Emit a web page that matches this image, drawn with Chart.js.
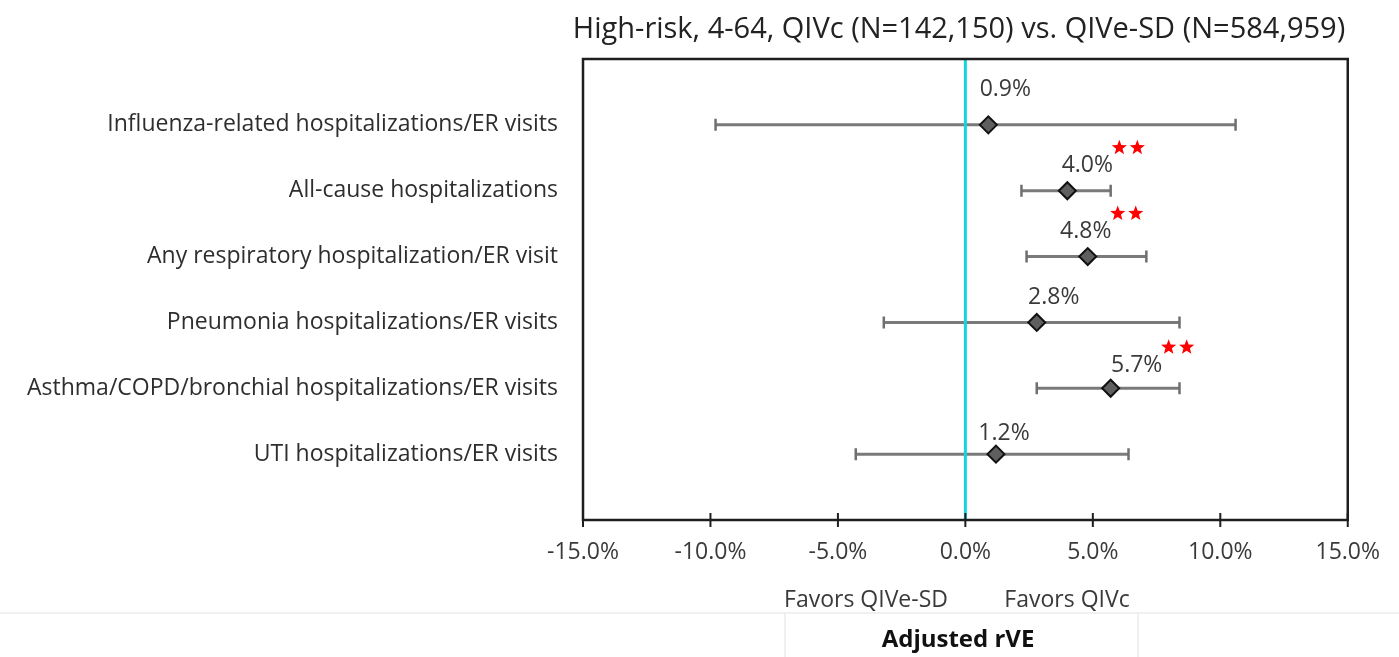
<!DOCTYPE html>
<html>
<head>
<meta charset="utf-8">
<script src="https://cdn.jsdelivr.net/npm/chart.js@4.4.1/dist/chart.umd.min.js"></script>
<style>
  html, body { margin: 0; padding: 0; background: #fff; }
  #wrap { width: 1399px; height: 657px; position: relative; }
</style>
</head>
<body>
<div id="wrap"><canvas id="forest"></canvas></div>
<script>
// Forest plot: adjusted rVE, QIVc vs QIVe-SD, high-risk 4-64

const categories = [
  "Influenza-related hospitalizations/ER visits",
  "All-cause hospitalizations",
  "Any respiratory hospitalization/ER visit",
  "Pneumonia hospitalizations/ER visits",
  "Asthma/COPD/bronchial hospitalizations/ER visits",
  "UTI hospitalizations/ER visits",
];
const estimates = [0.9, 4.0, 4.8, 2.8, 5.7, 1.2];
const lowerCI = [-9.8, 2.2, 2.4, -3.2, 2.8, -4.3];
const upperCI = [10.6, 5.7, 7.1, 8.4, 8.4, 6.4];
const significant = [false, true, true, false, true, false];
const xTicks = [-15, -10, -5, 0, 5, 10, 15];

const FONT = "'Open Sans', sans-serif";
const TEXT = "#3a3a3a";

// label offsets (px) for the value labels, as placed in the original
const labelDx = [17, 20, -2, 17, 26, 8];
const labelDy = [-35, -25, -25, -25, -23, -21];

const rows = categories.map((_, i) => i);

const datasets = [
  {
    label: "rVE",
    data: rows.map((i) => ({ x: estimates[i], y: i })),
    pointStyle: "rectRot",
    pointRadius: 8.5,
    pointHoverRadius: 8.5,
    backgroundColor: "#5f5f5f",
    borderColor: "#111",
    borderWidth: 2,
    showLine: false,
  },
  {
    label: "zero",
    data: [{ x: 0, y: -1 }, { x: 0, y: 6 }],
    showLine: true,
    borderColor: "#13d6dc",
    borderWidth: 3,
    pointRadius: 0,
  },
];
rows.forEach((i) => {
  datasets.push({
    label: "ci" + i,
    data: [{ x: lowerCI[i], y: i }, { x: upperCI[i], y: i }],
    showLine: true,
    borderColor: "#7a7a7a",
    borderWidth: 3,
    pointStyle: "line",
    rotation: 90,
    pointRadius: 6,
    pointBorderWidth: 2.5,
    pointBorderColor: "#6f6f6f",
  });
});

function drawStar(ctx, cx, cy, r) {
  ctx.beginPath();
  for (let k = 0; k < 10; k++) {
    const rr = k % 2 === 0 ? r : r * 0.42;
    const a = -Math.PI / 2 + (k * Math.PI) / 5;
    ctx.lineTo(cx + rr * Math.cos(a), cy + rr * Math.sin(a));
  }
  ctx.closePath();
  ctx.fill();
}

const decorations = {
  id: "decorations",
  afterDatasetsDraw(chart) {
    const { ctx, chartArea: a, scales } = chart;
    const x = scales.x, y = scales.y;
    ctx.save();

    // frame
    ctx.strokeStyle = "#1e1e1e";
    ctx.lineWidth = 2.5;
    ctx.strokeRect(a.left, a.top, a.right - a.left, a.bottom - a.top);

    // tick marks crossing the axis
    ctx.lineWidth = 2;
    xTicks.forEach((t) => {
      const px = x.getPixelForValue(t);
      ctx.beginPath();
      ctx.moveTo(px, a.bottom - 7);
      ctx.lineTo(px, a.bottom + 7);
      ctx.stroke();
    });

    // value labels + significance stars
    ctx.font = "23px " + FONT;
    ctx.textAlign = "center";
    ctx.textBaseline = "middle";
    rows.forEach((i) => {
      const px = x.getPixelForValue(estimates[i]) + labelDx[i];
      const py = y.getPixelForValue(i) + labelDy[i];
      ctx.fillStyle = TEXT;
      ctx.fillText(estimates[i].toFixed(1) + "%", px, py);
      if (significant[i]) {
        ctx.fillStyle = "#ff0000";
        drawStar(ctx, px + 32, py - 18, 8);
        drawStar(ctx, px + 50, py - 18, 8);
      }
    });

    // title
    ctx.fillStyle = "#222";
    ctx.font = "29px " + FONT;
    ctx.fillText("High-risk, 4-64, QIVc (N=142,150) vs. QIVe-SD (N=584,959)", 959, 30);

    // favors labels
    ctx.fillStyle = TEXT;
    ctx.font = "23px " + FONT;
    ctx.fillText("Favors QIVe-SD", 866, 600);
    ctx.fillText("Favors QIVc", 1067, 600);

    // faint divider
    ctx.strokeStyle = "#ececec";
    ctx.lineWidth = 1.5;
    ctx.beginPath();
    ctx.moveTo(0, 613);
    ctx.lineTo(1399, 613);
    ctx.moveTo(785, 613);
    ctx.lineTo(785, 657);
    ctx.moveTo(1138, 613);
    ctx.lineTo(1138, 657);
    ctx.stroke();

    ctx.fillStyle = "#111";
    ctx.font = "bold 24px " + FONT;
    ctx.fillText("Adjusted rVE", 958, 640);
    ctx.restore();
  },
};

new Chart(document.getElementById("forest"), {
  type: "scatter",
  data: { datasets },
  options: {
    responsive: true,
    maintainAspectRatio: false,
    animation: false,
    layout: { padding: { top: 59, right: 45, left: 0, bottom: 0 } },
    plugins: {
      legend: { display: false },
      tooltip: { enabled: false },
    },
    scales: {
      x: {
        type: "linear",
        min: -15,
        max: 15,
        afterBuildTicks: (s) => { s.ticks = xTicks.map((v) => ({ value: v })); },
        afterFit: (s) => { s.height = 137; },
        grid: { display: false, drawTicks: false },
        border: { display: false },
        ticks: {
          color: TEXT,
          font: { family: FONT, size: 23 },
          padding: 19,
          maxRotation: 0,
          autoSkip: false,
          callback: (v) => v.toFixed(1) + "%",
        },
      },
      y: {
        type: "linear",
        reverse: true,
        min: -1,
        max: 6,
        afterBuildTicks: (s) => { s.ticks = rows.map((v) => ({ value: v })); },
        afterFit: (s) => { s.width = 583; },
        grid: { display: false, drawTicks: false },
        border: { display: false },
        ticks: {
          color: "#2e2e2e",
          font: { family: FONT, size: 23 },
          padding: 25,
          callback: (v) => categories[v] || "",
        },
      },
    },
  },
  plugins: [decorations],
});
</script>
</body>
</html>
